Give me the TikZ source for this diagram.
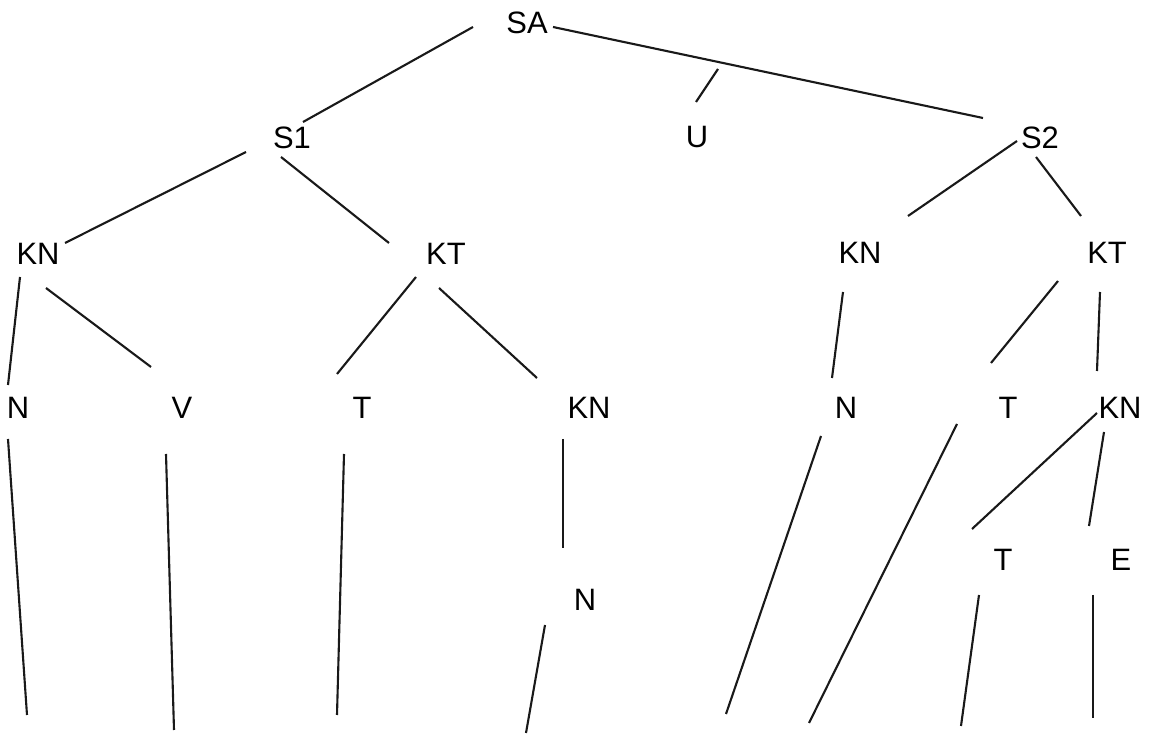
\documentclass[tikz,border=0pt]{standalone}
\usepackage{fontspec}
\setmainfont{Liberation Sans}
\tikzset{
  cat/.style={inner sep=0pt, font=\fontsize{17.6}{20}\selectfont},
  branch/.style={line width=1.2pt, draw=black!90}
}
\begin{document}
\begin{tikzpicture}[x=0.02cm, y=-0.02cm]
\useasboundingbox (0,0) rectangle (1154,736);
%--- Categories (top to bottom) ---
\node[cat] (SA) at (527,23) {SA};
\node[cat] (S1) at (292,138) {S1};
\node[cat] (U) at (697,137) {U};
\node[cat] (S2) at (1040,138) {S2};
\node[cat] (KNa) at (38,254) {KN};
\node[cat] (KTa) at (446,254) {KT};
\node[cat] (KNb) at (860,253) {KN};
\node[cat] (KTb) at (1107,253) {KT};
\node[cat] (Na) at (18,408) {N};
\node[cat] (V) at (182,408) {V};
\node[cat] (Ta) at (362,408) {T};
\node[cat] (KNc) at (589,408) {KN};
\node[cat] (Nb) at (846,408) {N};
\node[cat] (Tb) at (1008,408) {T};
\node[cat] (KNd) at (1120,408) {KN};
\node[cat] (Tc) at (1003,560) {T};
\node[cat] (E) at (1121,560) {E};
\node[cat] (Nc) at (585,600) {N};
%--- Free ends ---
\coordinate (Utop) at (718,69);
\coordinate (leafA) at (27,715);
\coordinate (leafB) at (174,730);
\coordinate (leafC) at (337,715);
\coordinate (leafD) at (526,733);
\coordinate (leafE) at (726,714);
\coordinate (leafF) at (809,723);
\coordinate (leafG) at (961,726);
\coordinate (leafH) at (1093,718);
%--- Branches ---
\draw[branch] ([shift={(-54,4)}]SA.center) -- ([shift={(11,-16)}]S1.center);
\draw[branch] ([shift={(26,4)}]SA.center) -- ([shift={(-57,-20)}]S2.center);
\draw[branch] (Utop) -- ([shift={(-1,-35)}]U.center);
\draw[branch] ([shift={(-46,14)}]S1.center) -- ([shift={(27,-11)}]KNa.center);
\draw[branch] ([shift={(-11,19)}]S1.center) -- ([shift={(-57,-11)}]KTa.center);
\draw[branch] ([shift={(-23,3)}]S2.center) -- ([shift={(48,-37)}]KNb.center);
\draw[branch] ([shift={(-4,19)}]S2.center) -- ([shift={(-26,-37)}]KTb.center);
\draw[branch] ([shift={(-18,23)}]KNa.center) -- ([shift={(-10,-23)}]Na.center);
\draw[branch] ([shift={(8,34)}]KNa.center) -- ([shift={(-31,-41)}]V.center);
\draw[branch] ([shift={(-30,23)}]KTa.center) -- ([shift={(-25,-34)}]Ta.center);
\draw[branch] ([shift={(-7,34)}]KTa.center) -- ([shift={(-52,-30)}]KNc.center);
\draw[branch] ([shift={(-17,39)}]KNb.center) -- ([shift={(-14,-30)}]Nb.center);
\draw[branch] ([shift={(-49,28)}]KTb.center) -- ([shift={(-17,-45)}]Tb.center);
\draw[branch] ([shift={(-7,39)}]KTb.center) -- ([shift={(-23,-37)}]KNd.center);
\draw[branch] ([shift={(-23,5)}]KNd.center) -- ([shift={(-31,-31)}]Tc.center);
\draw[branch] ([shift={(-16,24)}]KNd.center) -- ([shift={(-32,-34)}]E.center);
\draw[branch] ([shift={(-26,31)}]KNc.center) -- ([shift={(-22,-52)}]Nc.center);
%--- Down to the leaves ---
\draw[branch] ([shift={(-10,31)}]Na.center) -- (leafA);
\draw[branch] ([shift={(-16,46)}]V.center) -- (leafB);
\draw[branch] ([shift={(-18,46)}]Ta.center) -- (leafC);
\draw[branch] ([shift={(-40,25)}]Nc.center) -- (leafD);
\draw[branch] ([shift={(-25,28)}]Nb.center) -- (leafE);
\draw[branch] ([shift={(-51,16)}]Tb.center) -- (leafF);
\draw[branch] ([shift={(-24,35)}]Tc.center) -- (leafG);
\draw[branch] ([shift={(-28,35)}]E.center) -- (leafH);
\end{tikzpicture}
\end{document}
